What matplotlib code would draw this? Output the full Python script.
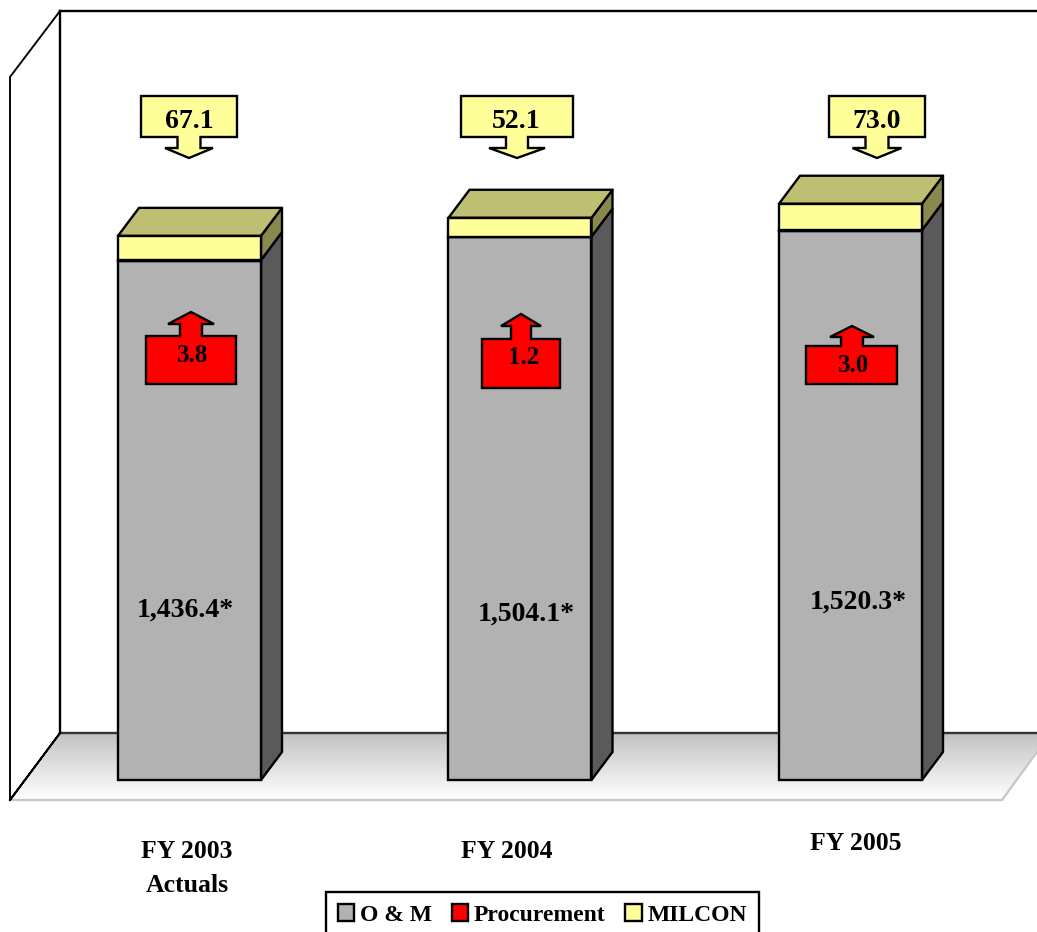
import numpy as np
import matplotlib
matplotlib.use("Agg")
import matplotlib.pyplot as plt
from matplotlib.patches import Polygon
from matplotlib.transforms import Affine2D

# Values
categories = ["FY 2003\nActuals", "FY 2004", "FY 2005"]
om_values = [1436.4, 1504.1, 1520.3]
procurement_values = [3.8, 1.2, 3.0]
milcon_values = [67.1, 52.1, 73.0]
series_names = ["O & M", "Procurement", "MILCON"]

W, H = 1037, 932
PX_PER_CAT = 330.5
PX_PER_UNIT = 0.361
BASE_X, BASE_Y = 189.5, 780
BAR_W = 143 / PX_PER_CAT
DEPTH_X = 21 / PX_PER_CAT
DEPTH_Y = 28 / PX_PER_UNIT
LW = 1.7

plt.rcParams["font.family"] = ["Liberation Serif", "DejaVu Serif"]
plt.rcParams["font.weight"] = "bold"

fig = plt.figure(figsize=(W / 100, H / 100), dpi=100)
ax = fig.add_axes([0, 0, 1, 1])
ax.axis("off")

# pixel coordinates of the reference (origin top left), for the room and callouts
pix = Affine2D().scale(1, -1).translate(0, H)

# floor with its grey to white fade
floor_pts = [(60, 733), (1037, 733), (1037, 752), (1002, 800), (10, 800)]
fade = np.linspace(0.76, 1.0, 64).reshape(-1, 1)
im = ax.imshow(fade, cmap="gray", vmin=0, vmax=1, extent=(0, W, 800, 733), origin="upper",
               aspect="auto", transform=pix, zorder=1)
floor = Polygon(floor_pts, closed=True, transform=pix, facecolor="none", edgecolor="none")
ax.add_patch(floor)
im.set_clip_path(floor)
ax.plot([1037, 1002, 10], [752, 800, 800], color="#c8c8c8", lw=LW, transform=pix, zorder=2)
ax.plot([60, 1037], [733, 733], color="#333333", lw=LW, transform=pix, zorder=2)

# walls
ax.plot([60, 1037], [11, 11], color="black", lw=LW, transform=pix, zorder=2)
ax.plot([60, 60], [11, 733], color="black", lw=LW, transform=pix, zorder=2)
ax.plot([10, 60, 10, 10, 60], [800, 733, 800, 77, 11], color="black", lw=LW * 0.8,
        transform=pix, zorder=2)

x = np.arange(len(categories))
om = np.array(om_values)
proc = np.array(procurement_values)
milcon = np.array(milcon_values)

# stacked front faces
edge = dict(edgecolor="black", linewidth=LW, width=BAR_W, zorder=4)
bar_om = ax.bar(x, om, color="#b2b2b2", label=series_names[0], **edge)
bar_proc = ax.bar(x, proc, bottom=om, color="#ff0000", label=series_names[1], **edge)
bar_mil = ax.bar(x, milcon, bottom=om + proc, color="#ffff99", label=series_names[2], **edge)


def side_face(xc, y0, y1, color):
    xr = xc + BAR_W / 2
    pts = [(xr, y0), (xr + DEPTH_X, y0 + DEPTH_Y), (xr + DEPTH_X, y1 + DEPTH_Y), (xr, y1)]
    ax.add_patch(Polygon(pts, closed=True, facecolor=color, edgecolor="black", lw=LW,
                         joinstyle="round", zorder=3))


for xc, o, p, m in zip(x, om, proc, milcon):
    side_face(xc, 0, o + p, "#5a5a5a")
    side_face(xc, o + p, o + p + m, "#88884f")
    top = o + p + m
    xl, xr = xc - BAR_W / 2, xc + BAR_W / 2
    ax.add_patch(Polygon([(xl, top), (xl + DEPTH_X, top + DEPTH_Y), (xr + DEPTH_X, top + DEPTH_Y), (xr, top)],
                         closed=True, facecolor="#bfbf73", edgecolor="black", lw=LW,
                         joinstyle="round", zorder=3))


def down_callout(left, right, cx, stem, head):
    pts = [(left, 96), (right, 96), (right, 137), (cx + stem, 137), (cx + stem, 148), (cx + head, 148),
           (cx, 158), (cx - head, 148), (cx - stem, 148), (cx - stem, 137), (left, 137)]
    ax.add_patch(Polygon(pts, closed=True, facecolor="#ffff99", edgecolor="black", lw=LW,
                         transform=pix, zorder=6))


def up_callout(left, right, top, bottom, cx, stem, head, neck, tip):
    pts = [(left, bottom), (right, bottom), (right, top), (cx + stem, top), (cx + stem, neck), (cx + head, neck),
           (cx, tip), (cx - head, neck), (cx - stem, neck), (cx - stem, top), (left, top)]
    ax.add_patch(Polygon(pts, closed=True, facecolor="#ff0000", edgecolor="black", lw=LW,
                         transform=pix, zorder=6))


down_callout(141, 237, 189, 11.5, 24)
down_callout(461, 573, 517, 11, 28)
down_callout(829, 925, 877, 11.5, 24.5)
up_callout(146, 236, 336, 384, 191, 11, 23, 324, 312)
up_callout(482, 560, 339, 388, 521, 10, 20, 326, 314)
up_callout(806, 897, 346, 384, 852, 11, 22, 337, 326)

# value labels
label_style = dict(ha="center", va="center", fontsize=20, fontweight="bold", color="black",
                   transform=pix, zorder=7)
for px, py, v in zip([185, 526, 858], [610, 614, 602], om_values):
    ax.text(px, py, f"{v:,.1f}*", **label_style)
for px, py, v in zip([193, 524, 854], [355, 357, 366], procurement_values):
    ax.text(px, py, f"{v:.1f}", **{**label_style, "fontsize": 18})
for px, py, v in zip([189, 516, 877], [121, 121, 121], milcon_values):
    ax.text(px, py, f"{v:.1f}", **label_style)

# category labels sit at hand placed heights in the original
for px, py, name in zip([187, 507, 856], [852, 852, 844], categories):
    lines = name.split("\n")
    for i, line in enumerate(lines):
        ax.text(px, py + i * 34, line, **{**label_style, "fontsize": 18.5})

ax.set_xlim(-BASE_X / PX_PER_CAT, (W - BASE_X) / PX_PER_CAT)
ax.set_ylim((BASE_Y - H) / PX_PER_UNIT, BASE_Y / PX_PER_UNIT)

leg = ax.legend(handles=[bar_om, bar_proc, bar_mil], loc="lower left", ncol=3,
                bbox_to_anchor=(326 / W, -0.006), bbox_transform=fig.transFigure,
                prop=dict(family="Liberation Serif", weight="bold", size=17),
                fancybox=False, framealpha=1, edgecolor="black", borderaxespad=0,
                handlelength=0.7, handleheight=0.7, handletextpad=0.25, columnspacing=0.82,
                borderpad=0.5)
leg.get_frame().set_linewidth(LW)
leg.set_zorder(8)

fig.savefig("out.png", dpi=100)
